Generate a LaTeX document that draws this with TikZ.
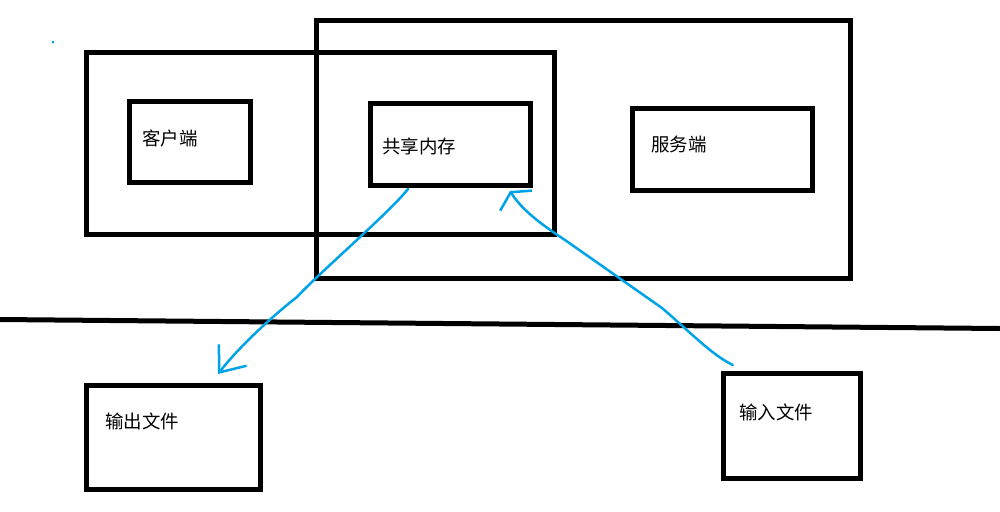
\documentclass[tikz,border=0pt]{standalone}
\usepackage{fontspec}
\usepackage{tikz}
\usetikzlibrary{arrows.meta, calc}
\newfontfamily\cjk{Noto Sans CJK SC}
\definecolor{paintblue}{RGB}{0,162,232}

\begin{document}
\begin{tikzpicture}[x=0.02cm, y=-0.02cm,
    box/.style={draw, line width=0.1cm, inner sep=0pt},
    tag/.style={anchor=west, inner sep=0pt, font=\cjk\fontsize{10.5pt}{12pt}\selectfont},
    flow/.style={paintblue, line width=0.05cm, line cap=round, line join=round}]
  \useasboundingbox (0,0) rectangle (1000,511);

  % Client and server frames
  \node[box, minimum width=9.38cm, minimum height=3.65cm] (clientframe) at (320.5,143.3) {};
  \node[box, minimum width=10.67cm, minimum height=5.15cm] (serverframe) at (583.3,149.3) {};

  % Inner boxes
  \node[box, minimum width=2.42cm, minimum height=1.62cm] (client) at (190,142) {};
  \node[box, minimum width=3.2cm, minimum height=1.64cm] (mem) at (450.5,144.5) {};
  \node[box, minimum width=3.6cm, minimum height=1.64cm] (server) at (722.5,149.5) {};

  % File boxes
  \node[box, minimum width=3.48cm, minimum height=2.08cm] (outfile) at (173.5,437.5) {};
  \node[box, minimum width=2.73cm, minimum height=2.1cm] (infile) at (791.8,426) {};

  % Texts
  \node[tag] (clienttext) at (142,138.5) {客户端};
  \node[tag] (memtext) at (382,146.5) {共享内存};
  \node[tag] (servertext) at (651,144) {服务端};
  \node[tag] (outfiletext) at (105,421) {输出文件};
  \node[tag] (infiletext) at (739,412.5) {输入文件};

  % Divider
  \draw[line width=0.1cm] (0,319.5) -- (1000,328.5);

  % Stray dot
  \fill[paintblue] (53,42) circle (0.03cm);

  % Shared memory -> output file
  \draw[flow, -{Straight Barb[length=4.4mm, width=7mm]}]
    ($(mem.south)+(-42.5,1)$) .. controls (390,212) and (318,274) .. (297,297)
    .. controls (280,310) and (242,343) .. ($(outfile.north)+(44.5,-9)$);

  % Input file -> shared memory
  \draw[flow, -{Straight Barb[length=2mm, width=7.5mm]}]
    ($(infile.north)+(-59,-6)$) .. controls (712,355) and (690,332) .. (662,308)
    -- (565,240) .. controls (542,225) and (522,210) .. ($(mem.south east)+(-23,3)$);
\end{tikzpicture}
\end{document}
